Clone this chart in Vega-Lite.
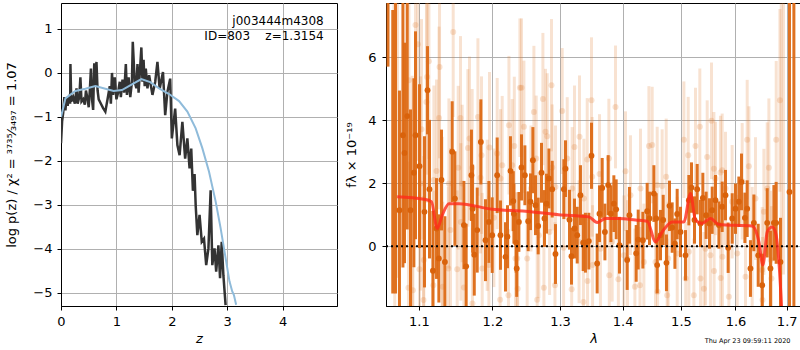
{
  "$schema": "https://vega.github.io/schema/vega-lite/v6.json",
  "padding": {"left": 5, "top": 1, "right": 1, "bottom": 0},
  "spacing": 7,
  "title": {"text": "Thu Apr 23 09:59:11 2020", "orient": "bottom", "anchor": "end", "fontSize": 6.5, "fontWeight": "normal", "color": "#000", "offset": -8, "dx": -12},
  "config": {
    "font": "DejaVu Sans",
    "view": {"stroke": "#000", "strokeWidth": 1},
    "axis": {"domainColor": "#000", "tickColor": "#000", "tickSize": 4, "labelFontSize": 13, "labelColor": "#000", "titleFontSize": 13, "titleFontWeight": "normal", "titleColor": "#000", "gridColor": "#b0b0b0", "gridWidth": 1, "labelPadding": 5, "labelFlush": false, "labelOverlap": false, "labelFont": "DejaVu Sans", "titleFont": "DejaVu Sans"}
  },
  "datasets": {
    "pz": [
      {"z":0.00,"v":-1.6},{"z":0.02,"v":-1.1},{"z":0.04,"v":-0.9},{"z":0.06,"v":-0.55},{"z":0.08,"v":-0.85},{"z":0.10,"v":-0.55},{"z":0.12,"v":-0.75},{"z":0.15,"v":-0.5},{"z":0.165,"v":-0.7},{"z":0.17,"v":0.2},{"z":0.185,"v":-0.65},{"z":0.22,"v":-0.55},{"z":0.25,"v":-0.7},{"z":0.28,"v":-0.35},{"z":0.30,"v":-0.7},{"z":0.33,"v":-0.55},{"z":0.35,"v":-0.1},{"z":0.37,"v":-0.65},{"z":0.40,"v":-0.6},{"z":0.43,"v":-0.72},{"z":0.45,"v":-0.4},{"z":0.48,"v":-0.6},{"z":0.50,"v":-0.78},{"z":0.52,"v":-0.4},{"z":0.54,"v":0.1},{"z":0.56,"v":-0.6},{"z":0.58,"v":-0.84},{"z":0.60,"v":0.22},{"z":0.62,"v":-0.3},{"z":0.64,"v":0.25},{"z":0.66,"v":-0.4},{"z":0.68,"v":-0.6},{"z":0.72,"v":-0.7},{"z":0.76,"v":-0.8},{"z":0.80,"v":-0.88},{"z":0.84,"v":-0.6},{"z":0.88,"v":-0.3},{"z":0.90,"v":-0.7},{"z":0.92,"v":0.0},{"z":0.94,"v":-0.5},{"z":0.97,"v":-0.1},{"z":1.00,"v":-0.6},{"z":1.03,"v":-0.45},{"z":1.06,"v":-0.2},{"z":1.08,"v":-0.55},{"z":1.11,"v":-0.15},{"z":1.14,"v":-0.45},{"z":1.17,"v":0.2},{"z":1.19,"v":-0.5},{"z":1.22,"v":-0.1},{"z":1.25,"v":-0.55},{"z":1.28,"v":-0.2},{"z":1.295,"v":0.71},{"z":1.33,"v":-0.2},{"z":1.36,"v":-0.35},{"z":1.38,"v":0.2},{"z":1.40,"v":-0.45},{"z":1.45,"v":0.58},{"z":1.47,"v":-0.2},{"z":1.49,"v":0.3},{"z":1.51,"v":-0.3},{"z":1.53,"v":0.1},{"z":1.56,"v":-0.35},{"z":1.59,"v":-0.05},{"z":1.65,"v":-0.5},{"z":1.70,"v":-0.2},{"z":1.74,"v":0.25},{"z":1.78,"v":-0.36},{"z":1.84,"v":0.02},{"z":1.88,"v":-0.96},{"z":1.92,"v":-0.43},{"z":1.97,"v":-0.13},{"z":2.00,"v":-1.49},{"z":2.06,"v":-0.81},{"z":2.10,"v":-1.64},{"z":2.14,"v":-1.87},{"z":2.19,"v":-1.11},{"z":2.24,"v":-1.95},{"z":2.28,"v":-1.49},{"z":2.32,"v":-2.17},{"z":2.35,"v":-1.72},{"z":2.38,"v":-2.68},{"z":2.41,"v":-2.3},{"z":2.43,"v":-3.01},{"z":2.46,"v":-3.69},{"z":2.50,"v":-3.23},{"z":2.54,"v":-3.84},{"z":2.58,"v":-3.77},{"z":2.62,"v":-4.37},{"z":2.66,"v":-3.99},{"z":2.70,"v":-2.67},{"z":2.73,"v":-4.37},{"z":2.77,"v":-3.99},{"z":2.80,"v":-4.52},{"z":2.84,"v":-3.92},{"z":2.87,"v":-4.67},{"z":2.90,"v":-3.84},{"z":2.93,"v":-4.60},{"z":2.97,"v":-5.28}
    ],
    "pzsmooth": [
      {"z":0.0,"v":-1.0},{"z":0.08,"v":-0.58},{"z":0.26,"v":-0.41},{"z":0.44,"v":-0.36},{"z":0.62,"v":-0.30},{"z":0.80,"v":-0.36},{"z":0.95,"v":-0.41},{"z":1.10,"v":-0.39},{"z":1.28,"v":-0.26},{"z":1.45,"v":-0.14},{"z":1.61,"v":-0.21},{"z":1.77,"v":-0.35},{"z":1.95,"v":-0.48},{"z":2.13,"v":-0.64},{"z":2.28,"v":-0.88},{"z":2.43,"v":-1.26},{"z":2.55,"v":-1.71},{"z":2.67,"v":-2.24},{"z":2.79,"v":-2.92},{"z":2.88,"v":-3.53},{"z":2.97,"v":-4.21},{"z":3.04,"v":-4.74},{"z":3.09,"v":-4.97},{"z":3.12,"v":-5.05},{"z":3.16,"v":-5.27}
    ],
    "labels": [
      {"z":4.74,"v":1.18,"label":"j003444m4308"},
      {"z":4.74,"v":0.83,"label":"ID=803\u00a0\u00a0\u00a0\u00a0z=1.3154"}
    ],
    "dark": [
      {"lam":1.0750,"v":1.14,"err":3.8},{"lam":1.0794,"v":3.52,"err":4.2},{"lam":1.0814,"v":2.96,"err":3.5},{"lam":1.0849,"v":4.13,"err":3.6},{"lam":1.0891,"v":1.14,"err":3.2},{"lam":1.0935,"v":2.33,"err":3.0},{"lam":1.0956,"v":3.52,"err":3.3},{"lam":1.1008,"v":2.54,"err":2.6},{"lam":1.1073,"v":1.09,"err":2.4},{"lam":1.1113,"v":4.95,"err":1.4},{"lam":1.1139,"v":1.81,"err":2.2},{"lam":1.1184,"v":-0.78,"err":1.9},{"lam":1.1232,"v":0.56,"err":1.6},{"lam":1.1263,"v":-0.39,"err":1.4},{"lam":1.1298,"v":2.10,"err":1.6},{"lam":1.1344,"v":-0.50,"err":1.45},{"lam":1.1442,"v":3.0,"err":1.6},{"lam":1.1479,"v":1.51,"err":1.5},{"lam":1.1602,"v":0.67,"err":1.4},{"lam":1.1633,"v":-0.64,"err":1.35},{"lam":1.1706,"v":2.25,"err":1.45},{"lam":1.1722,"v":1.19,"err":1.4},{"lam":1.1745,"v":-0.27,"err":1.3},{"lam":1.1786,"v":0.51,"err":1.35},{"lam":1.1837,"v":3.31,"err":1.35},{"lam":1.1902,"v":0.19,"err":1.3},{"lam":1.1950,"v":0.77,"err":1.3},{"lam":1.1997,"v":0.35,"err":1.2},{"lam":1.2068,"v":2.25,"err":1.2},{"lam":1.2115,"v":0.35,"err":1.1},{"lam":1.2187,"v":-0.34,"err":1.1},{"lam":1.2216,"v":0.30,"err":1.0},{"lam":1.2259,"v":2.39,"err":1.1},{"lam":1.2300,"v":1.43,"err":0.95},{"lam":1.2309,"v":1.03,"err":0.95},{"lam":1.2342,"v":0.11,"err":0.95},{"lam":1.2350,"v":-0.71,"err":0.9},{"lam":1.2382,"v":0.77,"err":0.95},{"lam":1.2420,"v":2.50,"err":1.05},{"lam":1.2470,"v":2.25,"err":0.95},{"lam":1.2519,"v":0.79,"err":0.95},{"lam":1.2553,"v":1.41,"err":0.9},{"lam":1.2589,"v":2.73,"err":1.05},{"lam":1.2628,"v":1.30,"err":0.95},{"lam":1.2668,"v":0.64,"err":0.9},{"lam":1.2718,"v":2.33,"err":0.95},{"lam":1.2763,"v":0.88,"err":0.9},{"lam":1.2793,"v":1.35,"err":0.95},{"lam":1.2830,"v":2.15,"err":0.95},{"lam":1.2880,"v":1.81,"err":0.9},{"lam":1.2930,"v":-0.25,"err":0.95},{"lam":1.3059,"v":1.81,"err":0.95},{"lam":1.3084,"v":2.46,"err":0.9},{"lam":1.3146,"v":0.84,"err":0.95},{"lam":1.3177,"v":-0.32,"err":0.9},{"lam":1.3224,"v":0.56,"err":0.95},{"lam":1.3267,"v":0.35,"err":0.9},{"lam":1.3318,"v":1.62,"err":0.95},{"lam":1.3361,"v":0.11,"err":0.9},{"lam":1.3397,"v":0.11,"err":0.95},{"lam":1.3451,"v":0.16,"err":0.9},{"lam":1.3493,"v":2.87,"err":1.05},{"lam":1.3584,"v":-0.55,"err":0.95},{"lam":1.3621,"v":1.03,"err":0.9},{"lam":1.3665,"v":1.85,"err":0.95},{"lam":1.3709,"v":0.45,"err":0.9},{"lam":1.3762,"v":1.94,"err":0.95},{"lam":1.3806,"v":1.03,"err":0.9},{"lam":1.3855,"v":1.35,"err":0.9},{"lam":1.3893,"v":1.17,"err":0.95},{"lam":1.3948,"v":0.03,"err":0.9},{"lam":1.4075,"v":-0.44,"err":0.95},{"lam":1.4113,"v":0.98,"err":0.9},{"lam":1.4226,"v":-0.23,"err":0.9},{"lam":1.4260,"v":0.21,"err":0.95},{"lam":1.4339,"v":0.19,"err":0.9},{"lam":1.4412,"v":1.11,"err":0.9},{"lam":1.4452,"v":0.88,"err":0.85},{"lam":1.4527,"v":1.67,"err":0.9},{"lam":1.4567,"v":0.88,"err":0.8},{"lam":1.4584,"v":-0.60,"err":0.9},{"lam":1.4641,"v":0.35,"err":0.8},{"lam":1.4688,"v":0.83,"err":0.8},{"lam":1.4745,"v":-0.53,"err":0.9},{"lam":1.4798,"v":1.28,"err":0.8},{"lam":1.4845,"v":0.59,"err":0.8},{"lam":1.4893,"v":0.08,"err":0.8},{"lam":1.4933,"v":1.02,"err":0.8},{"lam":1.4992,"v":0.45,"err":0.8},{"lam":1.5081,"v":-0.29,"err":0.8},{"lam":1.5141,"v":1.46,"err":0.8},{"lam":1.5188,"v":1.86,"err":0.8},{"lam":1.5242,"v":0.83,"err":0.75},{"lam":1.5291,"v":1.81,"err":0.8},{"lam":1.5351,"v":0.72,"err":0.75},{"lam":1.5394,"v":1.53,"err":0.8},{"lam":1.5454,"v":0.98,"err":0.75},{"lam":1.5515,"v":0.72,"err":0.8},{"lam":1.5565,"v":1.14,"err":0.75},{"lam":1.5626,"v":1.46,"err":0.8},{"lam":1.5689,"v":0.67,"err":0.75},{"lam":1.5750,"v":1.25,"err":0.8},{"lam":1.5812,"v":1.62,"err":0.8},{"lam":1.5862,"v":-0.05,"err":0.8},{"lam":1.5938,"v":0.88,"err":0.8},{"lam":1.6000,"v":1.19,"err":0.8},{"lam":1.6064,"v":1.41,"err":0.8},{"lam":1.6114,"v":2.04,"err":0.9},{"lam":1.6179,"v":0.90,"err":0.8},{"lam":1.6223,"v":1.19,"err":0.9},{"lam":1.6286,"v":-0.71,"err":0.9},{"lam":1.6352,"v":0.74,"err":0.9},{"lam":1.6436,"v":-0.29,"err":1.0},{"lam":1.6514,"v":-1.24,"err":1.0},{"lam":1.6612,"v":0.74,"err":1.1},{"lam":1.6676,"v":-0.71,"err":1.2},{"lam":1.6744,"v":0.74,"err":1.2},{"lam":1.6789,"v":0.74,"err":1.3},{"lam":1.6875,"v":-0.50,"err":1.4},{"lam":1.7056,"v":1.72,"err":10}
    ],
    "darkedge": [
      {"lam":1.0605,"v":9.0,"err":3.3},{"lam":1.0665,"v":3.0,"err":4.5},{"lam":1.0700,"v":4.0,"err":5.5},{"lam":1.7145,"v":3.0,"err":10}
    ],
    "lightedge": [
      {"lam":1.0690,"v":2.5,"err":5.0},{"lam":1.0725,"v":4.0,"err":5.0},{"lam":1.0680,"v":6.0,"err":6.0},{"lam":1.6935,"v":5.0,"err":5.9},{"lam":1.6890,"v":4.0,"err":6.0}
    ],
    "light": [
      {"lam":1.0865,"v":-1.32,"err":4.0},{"lam":1.0871,"v":5.27,"err":4.1},{"lam":1.0913,"v":1.51,"err":3.9},{"lam":1.0922,"v":-1.40,"err":3.8},{"lam":1.0956,"v":7.02,"err":4.0},{"lam":1.0987,"v":6.41,"err":3.7},{"lam":1.1008,"v":-0.73,"err":3.5},{"lam":1.1021,"v":1.99,"err":3.4},{"lam":1.1034,"v":3.71,"err":3.5},{"lam":1.1060,"v":-1.71,"err":3.3},{"lam":1.1065,"v":-0.44,"err":3.3},{"lam":1.1099,"v":4.58,"err":3.2},{"lam":1.1108,"v":5.37,"err":3.1},{"lam":1.1131,"v":5.87,"err":3.1},{"lam":1.1190,"v":-1.24,"err":3.0},{"lam":1.1197,"v":2.10,"err":3.0},{"lam":1.1232,"v":2.39,"err":2.9},{"lam":1.1265,"v":4.07,"err":2.9},{"lam":1.1272,"v":5.69,"err":2.9},{"lam":1.1308,"v":0.77,"err":2.7},{"lam":1.1315,"v":-1.29,"err":2.7},{"lam":1.1390,"v":-0.71,"err":2.6},{"lam":1.1398,"v":1.99,"err":2.7},{"lam":1.1419,"v":0.51,"err":2.6},{"lam":1.1456,"v":6.80,"err":2.7},{"lam":1.1510,"v":-0.73,"err":2.5},{"lam":1.1524,"v":2.49,"err":2.6},{"lam":1.1555,"v":4.07,"err":2.6},{"lam":1.1560,"v":0.77,"err":2.5},{"lam":1.1578,"v":1.99,"err":2.5},{"lam":1.1602,"v":-1.31,"err":2.5},{"lam":1.1657,"v":3.12,"err":2.5},{"lam":1.1679,"v":3.42,"err":2.6},{"lam":1.1716,"v":2.49,"err":2.5},{"lam":1.1720,"v":-1.82,"err":2.4},{"lam":1.1796,"v":4.10,"err":2.5},{"lam":1.1832,"v":2.17,"err":2.4},{"lam":1.1846,"v":2.89,"err":2.5},{"lam":1.1856,"v":-0.71,"err":2.4},{"lam":1.1926,"v":0.98,"err":2.4},{"lam":1.1950,"v":-0.60,"err":2.2},{"lam":1.1959,"v":3.13,"err":2.4},{"lam":1.2021,"v":0.90,"err":2.2},{"lam":1.2068,"v":2.94,"err":2.4},{"lam":1.2110,"v":-1.70,"err":2.2},{"lam":1.2116,"v":2.15,"err":2.2},{"lam":1.2140,"v":2.57,"err":2.2},{"lam":1.2230,"v":-1.56,"err":2.1},{"lam":1.2237,"v":3.84,"err":2.2},{"lam":1.2284,"v":2.57,"err":2.1},{"lam":1.2315,"v":3.18,"err":2.2},{"lam":1.2332,"v":-0.39,"err":2.1},{"lam":1.2357,"v":-0.39,"err":2.1},{"lam":1.2364,"v":-1.35,"err":2.1},{"lam":1.2397,"v":5.03,"err":2.2},{"lam":1.2420,"v":5.03,"err":2.2},{"lam":1.2456,"v":3.79,"err":2.1},{"lam":1.2504,"v":-0.39,"err":2.1},{"lam":1.2560,"v":1.83,"err":2.0},{"lam":1.2604,"v":4.26,"err":2.1},{"lam":1.2638,"v":2.78,"err":2.0},{"lam":1.2653,"v":-1.70,"err":2.0},{"lam":1.2678,"v":0.35,"err":2.0},{"lam":1.2739,"v":4.67,"err":2.1},{"lam":1.2754,"v":-1.32,"err":2.0},{"lam":1.2778,"v":3.63,"err":2.0},{"lam":1.2804,"v":3.49,"err":2.0},{"lam":1.2840,"v":0.45,"err":2.0},{"lam":1.2869,"v":5.11,"err":2.1},{"lam":1.2880,"v":2.50,"err":2.0},{"lam":1.2922,"v":-1.24,"err":2.0},{"lam":1.2930,"v":1.88,"err":1.95},{"lam":1.3033,"v":4.29,"err":2.0},{"lam":1.3055,"v":-0.05,"err":1.95},{"lam":1.3111,"v":2.78,"err":1.95},{"lam":1.3180,"v":-1.37,"err":1.95},{"lam":1.3188,"v":1.83,"err":1.95},{"lam":1.3224,"v":3.15,"err":1.95},{"lam":1.3296,"v":0.14,"err":1.95},{"lam":1.3303,"v":3.47,"err":1.95},{"lam":1.3365,"v":-1.77,"err":1.95},{"lam":1.3372,"v":1.51,"err":1.9},{"lam":1.3425,"v":2.75,"err":1.95},{"lam":1.3430,"v":-1.11,"err":1.9},{"lam":1.3493,"v":4.63,"err":2.0},{"lam":1.3504,"v":2.20,"err":1.9},{"lam":1.3510,"v":-0.60,"err":1.9},{"lam":1.3622,"v":2.29,"err":1.9},{"lam":1.3637,"v":-0.08,"err":1.9},{"lam":1.3774,"v":2.78,"err":1.9},{"lam":1.3780,"v":-0.92,"err":1.9},{"lam":1.3827,"v":0.14,"err":1.9},{"lam":1.3882,"v":4.42,"err":1.95},{"lam":1.3929,"v":-1.05,"err":1.9},{"lam":1.4020,"v":-0.29,"err":1.9},{"lam":1.4047,"v":2.38,"err":1.9},{"lam":1.4080,"v":-0.39,"err":1.85},{"lam":1.4130,"v":1.62,"err":1.9},{"lam":1.4204,"v":-1.29,"err":1.85},{"lam":1.4290,"v":-1.24,"err":1.85},{"lam":1.4299,"v":1.83,"err":1.9},{"lam":1.4356,"v":-0.50,"err":1.85},{"lam":1.4442,"v":3.18,"err":1.9},{"lam":1.4498,"v":3.21,"err":1.85},{"lam":1.4555,"v":-0.50,"err":1.85},{"lam":1.4584,"v":1.94,"err":1.85},{"lam":1.4590,"v":-1.45,"err":1.85},{"lam":1.4670,"v":1.91,"err":1.8},{"lam":1.4740,"v":2.20,"err":1.85},{"lam":1.4757,"v":-1.56,"err":1.8},{"lam":1.4775,"v":-0.39,"err":1.8},{"lam":1.4934,"v":-0.23,"err":1.8},{"lam":1.5052,"v":3.38,"err":1.85},{"lam":1.5085,"v":-1.03,"err":1.8},{"lam":1.5129,"v":2.89,"err":1.85},{"lam":1.5141,"v":-0.18,"err":1.8},{"lam":1.5231,"v":-1.56,"err":1.8},{"lam":1.5260,"v":3.18,"err":1.85},{"lam":1.5339,"v":3.79,"err":1.85},{"lam":1.5351,"v":-1.03,"err":1.8},{"lam":1.5413,"v":-1.35,"err":1.8},{"lam":1.5442,"v":-0.08,"err":1.8},{"lam":1.5473,"v":2.83,"err":1.8},{"lam":1.5533,"v":-0.29,"err":1.8},{"lam":1.5552,"v":3.98,"err":1.85},{"lam":1.5596,"v":2.46,"err":1.8},{"lam":1.5600,"v":-0.79,"err":1.8},{"lam":1.5626,"v":2.15,"err":1.8},{"lam":1.5718,"v":2.34,"err":1.8},{"lam":1.5722,"v":-1.01,"err":1.8},{"lam":1.5750,"v":2.41,"err":1.8},{"lam":1.5755,"v":-0.34,"err":1.8},{"lam":1.5812,"v":1.83,"err":1.8},{"lam":1.5875,"v":-1.61,"err":1.8},{"lam":1.5937,"v":1.41,"err":1.8},{"lam":1.6033,"v":-0.23,"err":1.85},{"lam":1.6127,"v":2.06,"err":1.85},{"lam":1.6191,"v":-0.97,"err":1.85},{"lam":1.6223,"v":3.38,"err":1.9},{"lam":1.6256,"v":2.54,"err":1.9},{"lam":1.6319,"v":-0.02,"err":1.9},{"lam":1.6383,"v":1.51,"err":1.95},{"lam":1.6513,"v":-0.76,"err":2.0},{"lam":1.6520,"v":-1.71,"err":2.0},{"lam":1.6547,"v":1.09,"err":2.0},{"lam":1.6612,"v":1.83,"err":2.1},{"lam":1.6645,"v":2.49,"err":2.2},{"lam":1.6680,"v":-0.44,"err":2.2},{"lam":1.6696,"v":-1.03,"err":2.3},{"lam":1.6790,"v":3.38,"err":2.5},{"lam":1.6864,"v":4.63,"err":2.9}
    ],
    "model": [
      {"lam":1.0721,"v":1.57},{"lam":1.1065,"v":1.49},{"lam":1.1165,"v":1.41},{"lam":1.1241,"v":0.56},{"lam":1.1308,"v":0.98},{"lam":1.1398,"v":1.35},{"lam":1.1533,"v":1.35},{"lam":1.1997,"v":1.17},{"lam":1.2479,"v":1.11},{"lam":1.2980,"v":1.00},{"lam":1.3452,"v":0.93},{"lam":1.3584,"v":0.75},{"lam":1.3719,"v":0.88},{"lam":1.3937,"v":0.88},{"lam":1.4214,"v":0.83},{"lam":1.4413,"v":0.79},{"lam":1.4555,"v":0.14},{"lam":1.4670,"v":0.45},{"lam":1.4845,"v":0.77},{"lam":1.5052,"v":0.77},{"lam":1.5170,"v":1.67},{"lam":1.5260,"v":0.83},{"lam":1.5381,"v":0.72},{"lam":1.5533,"v":0.88},{"lam":1.5688,"v":0.69},{"lam":1.6319,"v":0.64},{"lam":1.6449,"v":0.14},{"lam":1.6527,"v":-0.60},{"lam":1.6612,"v":0.45},{"lam":1.6710,"v":0.61},{"lam":1.6775,"v":0.45},{"lam":1.6844,"v":-0.50},{"lam":1.6896,"v":-1.9}
    ],
    "zero": [{"a":1.058,"b":1.729,"v":0}]
  },
  "hconcat": [
    {
      "width": 276,
      "height": 303,
      "encoding": {
        "x": {"field": "z", "type": "quantitative", "scale": {"domain": [0, 4.98], "nice": false, "zero": false}, "axis": {"values": [0,1,2,3,4], "title": "z", "titleFontStyle": "italic", "titlePadding": 4, "grid": true}},
        "y": {"field": "v", "type": "quantitative", "scale": {"domain": [-5.3, 1.59], "nice": false, "zero": false, "clamp": true}, "axis": {"values": [-5,-4,-3,-2,-1,0,1], "title": "log p(z) / χ² = ³⁷³⁵⁄₃₄₉₇ = 1.07", "titlePadding": 14, "grid": true}}
      },
      "layer": [
        {"data": {"name": "pz"}, "mark": {"type": "line", "color": "#333333", "strokeWidth": 2.5, "clip": true}},
        {"data": {"name": "pzsmooth"}, "mark": {"type": "line", "color": "#8fbbda", "strokeWidth": 2, "clip": true}},
        {"data": {"name": "labels"}, "mark": {"type": "text", "align": "right", "baseline": "middle", "fontSize": 12, "font": "DejaVu Sans", "color": "#000"}, "encoding": {"text": {"field": "label"}}}
      ]
    },
    {
      "width": 415,
      "height": 303,
      "encoding": {
        "x": {"field": "lam", "type": "quantitative", "scale": {"type": "log", "domain": [1.058, 1.729], "nice": false, "zero": false}, "axis": {"values": [1.1,1.2,1.3,1.4,1.5,1.6,1.7], "format": ".1f", "title": "λ", "titleFontStyle": "italic", "titlePadding": 4, "grid": true}},
        "y": {"field": "v", "type": "quantitative", "scale": {"domain": [-1.9, 7.72], "nice": false, "zero": false, "clamp": true}, "axis": {"values": [0,2,4,6], "title": "fλ × 10⁻¹⁹", "titlePadding": 9, "labelPadding": 6, "grid": true}}
      },
      "layer": [
        {"data": {"name": "lightedge"}, "mark": {"type": "errorbar", "color": "#e07b2c", "opacity": 0.22, "thickness": 3}, "encoding": {"yError": {"field": "err"}}},
        {"data": {"name": "light"}, "mark": {"type": "errorbar", "color": "#e07b2c", "opacity": 0.22, "thickness": 3}, "encoding": {"yError": {"field": "err"}}},
        {"data": {"name": "light"}, "mark": {"type": "circle", "color": "#e07b2c", "opacity": 0.22, "size": 36}},
        {"data": {"name": "darkedge"}, "mark": {"type": "errorbar", "color": "#dd6a15", "opacity": 0.95, "thickness": 3}, "encoding": {"yError": {"field": "err"}}},
        {"data": {"name": "dark"}, "mark": {"type": "errorbar", "color": "#dd6a15", "opacity": 0.95, "thickness": 3}, "encoding": {"yError": {"field": "err"}}},
        {"data": {"name": "dark"}, "mark": {"type": "circle", "color": "#d9620b", "opacity": 1, "size": 34}},
        {"data": {"name": "zero"}, "mark": {"type": "rule", "color": "#000", "strokeWidth": 2, "strokeDash": [2, 3]}, "encoding": {"x": {"field": "a", "type": "quantitative"}, "x2": {"field": "b"}, "y": {"field": "v", "type": "quantitative"}}},
        {"data": {"name": "model"}, "mark": {"type": "line", "color": "#ff2a1a", "opacity": 0.8, "strokeWidth": 3, "clip": true, "interpolate": "monotone"}}
      ]
    }
  ]
}
